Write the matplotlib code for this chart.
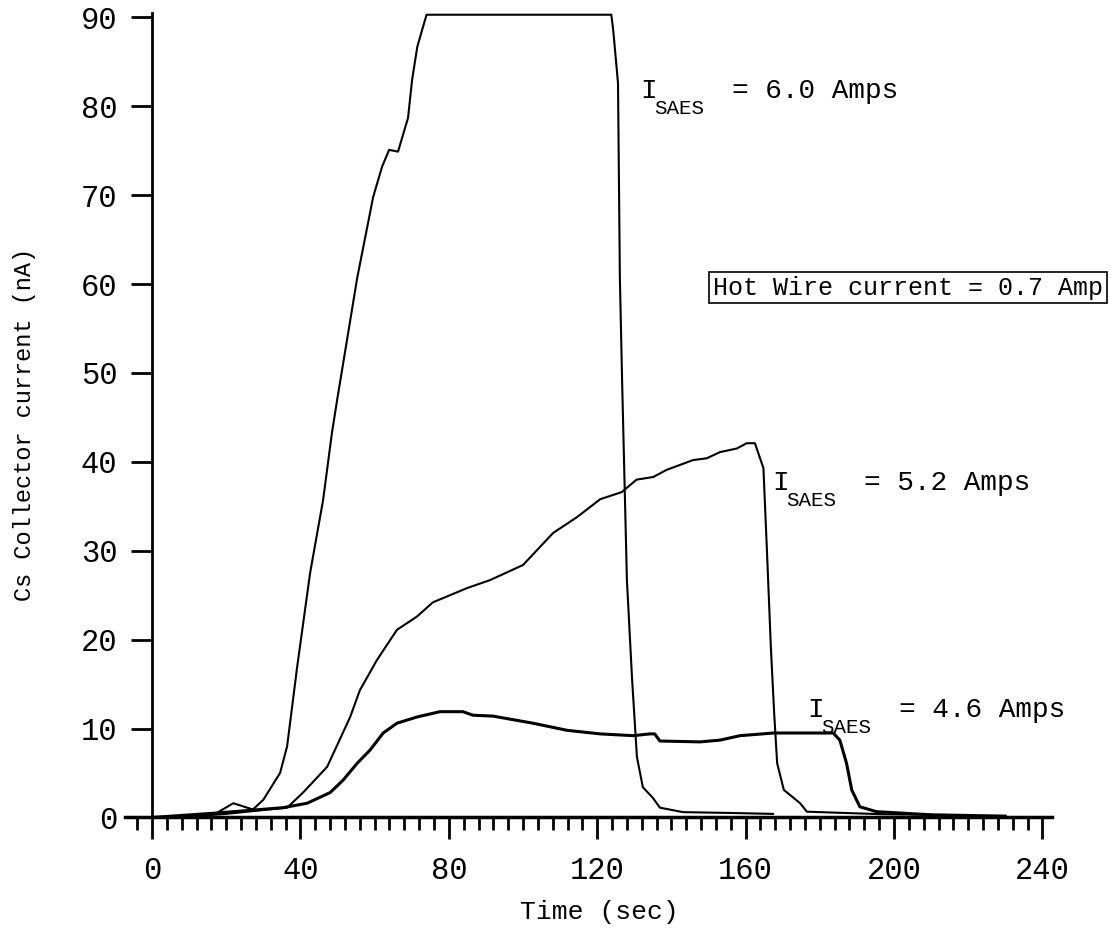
import matplotlib
matplotlib.use('Agg')
import matplotlib.pyplot as plt
from matplotlib.ticker import MultipleLocator
from matplotlib.transforms import offset_copy

plt.rcParams['font.family'] = ['Liberation Mono', 'DejaVu Sans Mono']

# I_SAES = 6.0 A
t60 = [0, 8.4, 17.4, 21.9, 26.4, 27.2, 30, 34.5, 36.4, 39.1, 42.6, 46.1, 48.5, 49.9, 55.3,
       59.6, 62, 63.9, 66.3, 69, 70.1, 71.5, 72.8, 74, 123.8, 124.3, 125.6, 126.1, 126.7,
       128, 129.4, 130.7, 132.3, 135, 136.9, 143.1, 156.6, 167.4]
y60 = [0, 0.1, 0.5, 1.6, 1.0, 0.9, 2.0, 5.0, 8.0, 16.9, 27.5, 35.7, 43.3, 47.0, 60.7,
       69.8, 73.2, 75.1, 74.9, 78.7, 83.0, 86.7, 88.6, 90.3, 90.3, 88.6, 82.6, 60.8, 49.2,
       26.7, 15.5, 6.8, 3.4, 2.2, 1.1, 0.6, 0.5, 0.4]

# I_SAES = 5.2 A
t52 = [0, 10, 20, 29.1, 36.4, 40.7, 47.2, 53.4, 56, 60.6, 66, 71.4, 75.7, 84.9, 91.1,
       100, 108.1, 114.6, 120.8, 126.6, 130.6, 135.1, 138.7, 145.8, 149.5, 153.1, 157.6,
       160.3, 162.5, 164.8, 165.7, 166.8, 167.7, 168.5, 170.3, 174.7, 176.5, 197, 210]
y52 = [0, 0.1, 0.4, 0.8, 1.1, 2.8, 5.7, 11.3, 14.3, 17.7, 21.1, 22.6, 24.2, 25.8, 26.7,
       28.4, 32.0, 33.8, 35.8, 36.6, 38.0, 38.3, 39.1, 40.2, 40.4, 41.1, 41.5,
       42.1, 42.1, 39.3, 30.5, 19.2, 11.7, 6.1, 3.1, 1.6, 0.65, 0.36, 0.3]

# I_SAES = 4.6 A
t46 = [0, 17.5, 35.3, 41.8, 48, 51.5, 55.3, 58.8, 62.3, 66, 71.4, 77.6, 83.8, 86.5, 91.9,
       102.7, 111.9, 120.8, 129.7, 134.2, 135.5, 136.9, 147.7, 153.1, 158.5, 167.5, 183.6,
       185.4, 187.2, 188.6, 190.8, 195.3, 210, 230]
y46 = [0, 0.5, 1.1, 1.6, 2.8, 4.2, 6.1, 7.6, 9.5, 10.6, 11.3, 11.9, 11.9, 11.5, 11.4,
       10.6, 9.8, 9.4, 9.2, 9.4, 9.4, 8.6, 8.5, 8.7, 9.2, 9.5, 9.5,
       8.7, 6.1, 3.1, 1.2, 0.65, 0.3, 0.15]

labels = ['6.0', '5.2', '4.6']
label_pos = [(131.5, 80.9), (167.1, 36.8), (176.5, 11.3)]

fig = plt.figure(figsize=(11.18, 9.32), dpi=100)
ax = fig.add_axes([0.1118, 0.1229, 0.8292, 0.8632])

ax.plot(t60, y60, color='black', lw=1.5)
ax.plot(t52, y52, color='black', lw=1.5)
ax.plot(t46, y46, color='black', lw=2.2)

ax.set_xlim(-7.3, 242.6)
ax.set_ylim(0, 90.5)

ax.spines['top'].set_visible(False)
ax.spines['right'].set_visible(False)
ax.spines['left'].set_position(('data', 0))
ax.spines['left'].set_linewidth(2)
ax.spines['bottom'].set_linewidth(2.5)

ax.xaxis.set_major_locator(MultipleLocator(40))
ax.xaxis.set_minor_locator(MultipleLocator(4))
ax.yaxis.set_major_locator(MultipleLocator(10))
ax.tick_params(axis='x', which='major', direction='out', length=16, width=2,
               labelsize=22, pad=12)
ax.tick_params(axis='x', which='minor', direction='out', length=9, width=2)
ax.tick_params(axis='y', which='major', direction='out', length=15, width=2,
               labelsize=22, pad=10)

fig.text(599 / 1118, 1 - 912 / 932, 'Time (sec)', ha='center', va='center', fontsize=19)
fig.text(25 / 1118, 1 - 424 / 932, 'Cs Collector current (nA)', ha='center', va='center',
         rotation=90, fontsize=17)

for lab, (lx, ly) in zip(labels, label_pos):
    ax.text(lx, ly, 'I', fontsize=20, va='baseline', ha='left')
    tr = offset_copy(ax.transData, fig=fig, x=14, y=-16, units='dots')
    ax.text(lx, ly, 'SAES', fontsize=15, va='baseline', ha='left', transform=tr)
    tr2 = offset_copy(ax.transData, fig=fig, x=92, y=0, units='dots')
    ax.text(lx, ly, '= ' + lab + ' Amps', fontsize=20, va='baseline', ha='left', transform=tr2)

ax.text(256.3, 59.6, 'Hot Wire current = 0.7 Amp', fontsize=18, ha='right', va='center',
        bbox=dict(boxstyle='square,pad=0.15', facecolor='white', edgecolor='black', lw=1.2))

fig.savefig('out.png', dpi=100)
